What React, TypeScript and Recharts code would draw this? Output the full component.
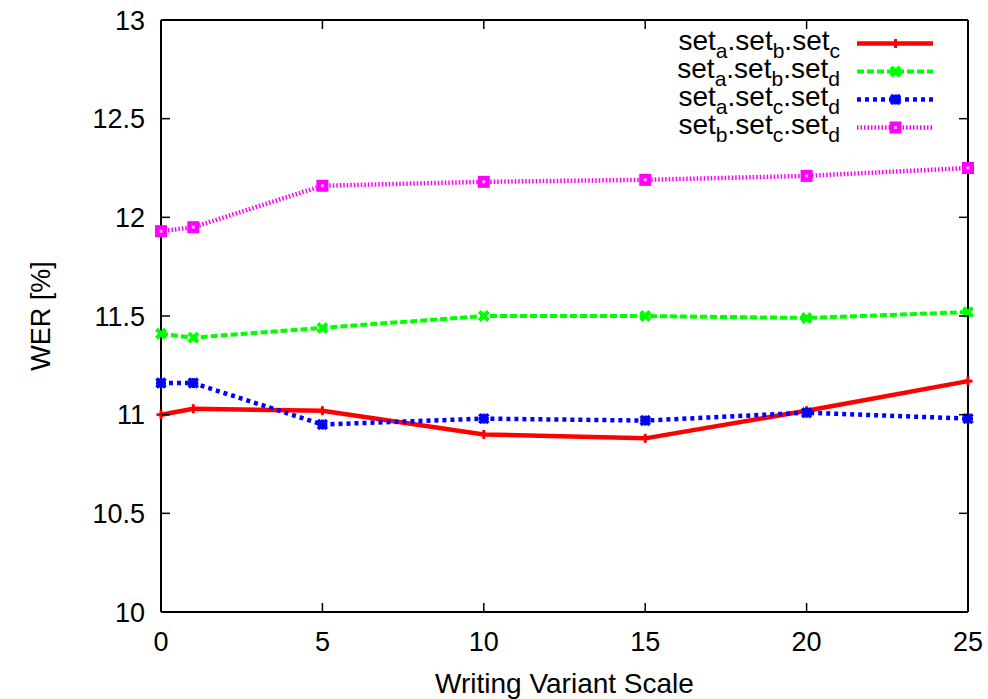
import React from "react";
import { LineChart, Line, XAxis, YAxis, Legend, ReferenceLine } from "recharts";

// writing variant scale vs. word error rate
const scale = [0, 1, 5, 10, 15, 20, 25];
const werABC = [11.0, 11.03, 11.02, 10.9, 10.88, 11.02, 11.17];
const werABD = [11.41, 11.39, 11.44, 11.5, 11.5, 11.49, 11.52];
const werACD = [11.16, 11.16, 10.95, 10.98, 10.97, 11.01, 10.98];
const werBCD = [11.93, 11.95, 12.16, 12.18, 12.19, 12.21, 12.25];

const xTicks = [0, 5, 10, 15, 20, 25];
const yTicks = [10, 10.5, 11, 11.5, 12, 12.5, 13];

const data = scale.map((s, i) => ({
  s,
  abc: werABC[i],
  abd: werABD[i],
  acd: werACD[i],
  bcd: werBCD[i],
}));

type Kind = "plus" | "cross" | "star" | "box";

const series: { key: string; subs: string[]; color: string; width: number; dash?: string; kind: Kind }[] = [
  { key: "abc", subs: ["a", "b", "c"], color: "#ff0000", width: 4.5, kind: "plus" },
  { key: "abd", subs: ["a", "b", "d"], color: "#00ff00", width: 4, dash: "7 3", kind: "cross" },
  { key: "acd", subs: ["a", "c", "d"], color: "#0000ff", width: 4.5, dash: "4 4", kind: "star" },
  { key: "bcd", subs: ["b", "c", "d"], color: "#ff00ff", width: 4.5, dash: "1.5 2", kind: "box" },
];

const FONT = "'Liberation Sans', Arial, Helvetica, sans-serif";
const W = 988;
const H = 699;
const TOP = 20;
const RIGHT = 20;
const YAXIS_W = 161;
const XAXIS_H = 87;
const PLOT_W = W - YAXIS_W - RIGHT;
const PLOT_H = H - TOP - XAXIS_H;
const TICK = 9;
const MARGIN = 20;

function Mark({ cx, cy, kind, color }: { cx: number; cy: number; kind: Kind; color: string }) {
  if (cx == null || cy == null) return null;
  if (kind === "plus") {
    return (
      <g stroke={color} strokeWidth={3}>
        <line x1={cx - 4.5} x2={cx + 4.5} y1={cy} y2={cy} />
        <line x1={cx} x2={cx} y1={cy - 4.5} y2={cy + 4.5} />
      </g>
    );
  }
  if (kind === "cross") {
    return (
      <g stroke={color} strokeWidth={4}>
        <line x1={cx - 4.5} x2={cx + 4.5} y1={cy - 4.5} y2={cy + 4.5} />
        <line x1={cx - 4.5} x2={cx + 4.5} y1={cy + 4.5} y2={cy - 4.5} />
      </g>
    );
  }
  if (kind === "star") {
    return (
      <g stroke={color} strokeWidth={3.5}>
        <line x1={cx - 4.5} x2={cx + 4.5} y1={cy - 4.5} y2={cy + 4.5} />
        <line x1={cx - 4.5} x2={cx + 4.5} y1={cy + 4.5} y2={cy - 4.5} />
        <line x1={cx - 5} x2={cx + 5} y1={cy} y2={cy} />
        <line x1={cx} x2={cx} y1={cy - 5} y2={cy + 5} />
      </g>
    );
  }
  return (
    <g>
      <rect x={cx - 6} y={cy - 6} width={12} height={12} fill={color} />
      <rect x={cx - 1.5} y={cy - 1.5} width={3} height={3} fill="#ffb3ff" />
    </g>
  );
}

// bottom tick label plus inward tick marks at bottom and top of the frame
function XTick({ x, y, payload }: any) {
  const ay = y - MARGIN;
  return (
    <g>
      <line x1={x} x2={x} y1={ay} y2={ay - TICK} stroke="#000" strokeWidth={1.5} />
      <line x1={x} x2={x} y1={ay - PLOT_H} y2={ay - PLOT_H + TICK} stroke="#000" strokeWidth={1.5} />
      <text x={x} y={y} dy="0.71em" textAnchor="middle" fontSize={27} fontFamily={FONT} fill="#000">
        {payload.value}
      </text>
    </g>
  );
}

// left tick label plus inward tick marks at left and right of the frame
function YTick({ x, y, payload }: any) {
  const ax = x + 16;
  return (
    <g>
      <line x1={ax} x2={ax + TICK} y1={y} y2={y} stroke="#000" strokeWidth={1.5} />
      <line x1={ax + PLOT_W} x2={ax + PLOT_W - TICK} y1={y} y2={y} stroke="#000" strokeWidth={1.5} />
      <text x={x} y={y} dy="0.355em" textAnchor="end" fontSize={27} fontFamily={FONT} fill="#000">
        {payload.value}
      </text>
    </g>
  );
}

function SetName({ subs, x, y }: { subs: string[]; x: number; y: number }) {
  const parts: React.ReactNode[] = [];
  subs.forEach((s, i) => {
    parts.push(
      <tspan key={"t" + i} dy={i === 0 ? 0 : -8} fontSize={28}>
        {i === 0 ? "set" : ".set"}
      </tspan>
    );
    parts.push(
      <tspan key={"s" + i} dy={8} fontSize={21}>
        {s}
      </tspan>
    );
  });
  return (
    <text x={x} y={y} textAnchor="end" fontFamily={FONT} fill="#000">
      {parts}
    </text>
  );
}

function LegendBox() {
  return (
    <svg width={300} height={120} style={{ display: "block", overflow: "visible" }}>
      {series.map((s, i) => {
        const ly = 23.5 + i * 28;
        return (
          <g key={s.key}>
            <SetName subs={s.subs} x={180} y={ly + 6} />
            <line x1={197} x2={273} y1={ly} y2={ly} stroke={s.color} strokeWidth={s.width} strokeDasharray={s.dash} />
            <Mark cx={235.5} cy={ly} kind={s.kind} color={s.color} />
          </g>
        );
      })}
    </svg>
  );
}

export default function App() {
  return (
    <div style={{ position: "absolute", left: 0, top: 0, width: W, height: H }}>
      <LineChart width={W} height={H} data={data} margin={{ top: TOP, right: RIGHT, bottom: 0, left: 0 }}>
        <ReferenceLine y={13} stroke="#000" strokeWidth={2} />
        <ReferenceLine x={25} stroke="#000" strokeWidth={2} />
        <XAxis
          dataKey="s"
          type="number"
          domain={[0, 25]}
          ticks={xTicks}
          height={XAXIS_H}
          tickSize={0}
          tickMargin={MARGIN}
          tick={<XTick />}
          axisLine={{ stroke: "#000", strokeWidth: 2 }}
          tickLine={false}
          label={{
            content: ({ viewBox }: any) => (
              <text
                x={viewBox.x + viewBox.width / 2}
                y={viewBox.y + viewBox.height - 6}
                textAnchor="middle"
                fontSize={28}
                fontFamily={FONT}
                fill="#000"
              >
                Writing Variant Scale
              </text>
            ),
          }}
        />
        <YAxis
          type="number"
          domain={[10, 13]}
          ticks={yTicks}
          width={YAXIS_W}
          tickSize={0}
          tickMargin={16}
          tick={<YTick />}
          axisLine={{ stroke: "#000", strokeWidth: 2 }}
          tickLine={false}
          allowDataOverflow
          label={{
            content: ({ viewBox }: any) => (
              <text
                transform={`translate(50, ${viewBox.y + viewBox.height / 2}) rotate(-90)`}
                textAnchor="middle"
                fontSize={27}
                fontFamily={FONT}
                fill="#000"
              >
                WER [%]
              </text>
            ),
          }}
        />
        <Legend
          layout="vertical"
          align="center"
          verticalAlign="middle"
          wrapperStyle={{ left: 660, top: 20, width: 300, height: 120 }}
          content={() => <LegendBox />}
        />
        {series.map((s) => (
          <Line
            key={s.key}
            dataKey={s.key}
            type="linear"
            stroke={s.color}
            strokeWidth={s.width}
            strokeDasharray={s.dash}
            isAnimationActive={false}
            dot={(p: any) => <Mark key={s.key + p.index} cx={p.cx} cy={p.cy} kind={s.kind} color={s.color} />}
            activeDot={false}
          />
        ))}
      </LineChart>
    </div>
  );
}
